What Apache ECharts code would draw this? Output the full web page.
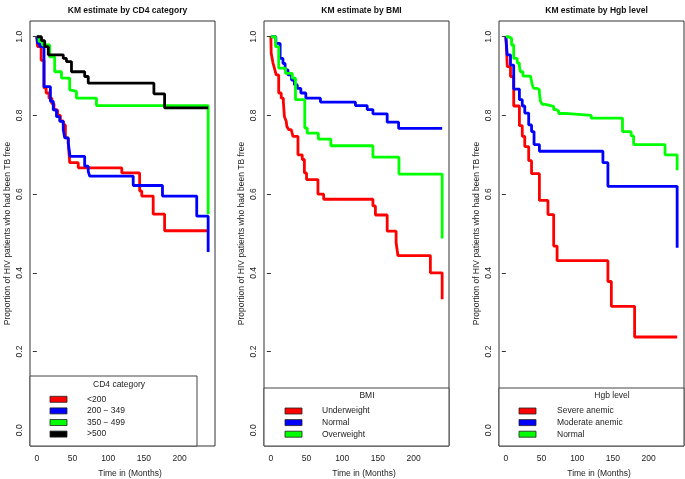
<!DOCTYPE html>
<html><head><meta charset="utf-8">
<script src="https://cdn.jsdelivr.net/npm/echarts@6/dist/echarts.min.js"></script>
<style>html,body{margin:0;padding:0;background:#fff}#c{width:685px;height:479px}</style>
</head><body><div id="c"></div>
<script>
// ---- data ----
const panelTitles = ['KM estimate by CD4 category', 'KM estimate by BMI', 'KM estimate by Hgb level'];
const legendTitles = ['CD4 category', 'BMI', 'Hgb level'];
const xTicks = [0, 50, 100, 150, 200];
const yTicks = [0, 0.2, 0.4, 0.6, 0.8, 1.0];
const xLabel = 'Time in (Months)';
const yLabel = 'Proportion of HIV patients who had been TB free';

const cd4Names = ['<200', '200 − 349', '350 − 499', '>500'];
const cd4Lt200 = [[0,1],[1,0.975],[6,0.94],[10,0.87],[13,0.857],[17,0.844],[21,0.83],[24,0.814],[29,0.80],[33,0.786],[37,0.776],[40,0.743],[44,0.73],[46,0.68],[58,0.667],[119,0.654],[144,0.608],[147,0.595],[163,0.549],[179,0.507],[240,0.507]];
const cd4_200_349 = [[0,1],[1,0.983],[4,0.975],[10,0.873],[19,0.836],[23,0.814],[27.5,0.797],[32,0.785],[37,0.764],[39,0.743],[44,0.73],[46.5,0.696],[67,0.671],[72,0.658],[74,0.646],[135,0.622],[176,0.595],[224,0.544],[240,0.453]];
const cd4_350_499 = [[0,1],[3,0.988],[8,0.979],[18,0.949],[25,0.911],[34.5,0.895],[46,0.865],[48.5,0.861],[55.5,0.844],[83.5,0.825],[240,0.549]];
const cd4Gt500 = [[0,1],[6.5,0.99],[11,0.975],[16,0.954],[37,0.945],[41.5,0.937],[48.5,0.911],[67,0.899],[72,0.882],[164,0.855],[179,0.819],[240,0.819]];

const bmiNames = ['Underweight', 'Normal', 'Overweight'];
const bmiUnder = [[0,1],[0.5,0.958],[3,0.933],[5,0.92],[7.5,0.903],[11,0.857],[14.5,0.844],[17.5,0.835],[19,0.797],[21.5,0.785],[22.5,0.772],[25,0.764],[28.5,0.76],[31,0.747],[38,0.7],[44,0.688],[47,0.654],[50,0.637],[66,0.6],[74,0.587],[143,0.57],[146.5,0.547],[163,0.506],[175.5,0.477],[178,0.444],[223.5,0.40],[240,0.333]];
const bmiNormal = [[0,1],[7,0.983],[13,0.945],[17,0.932],[20,0.916],[24,0.903],[29,0.89],[33,0.878],[37,0.869],[42,0.857],[49,0.844],[69.5,0.834],[118.5,0.825],[135,0.815],[143,0.804],[163,0.783],[179,0.767],[240,0.767]];
const bmiOver = [[0,1],[6.5,0.975],[11,0.92],[20.5,0.907],[30,0.895],[34.5,0.84],[47.5,0.768],[51,0.755],[66.5,0.74],[84,0.723],[143,0.694],[179.5,0.651],[240,0.487]];

const hgbNames = ['Severe anemic', 'Moderate anemic', 'Normal'];
const hgbSevere = [[0,1],[1,0.966],[2,0.924],[6.5,0.899],[11,0.824],[19,0.774],[23,0.747],[26.5,0.721],[32,0.685],[36,0.652],[47,0.584],[59,0.548],[67,0.468],[71.8,0.431],[143,0.378],[147.8,0.315],[180.4,0.237],[240,0.237]];
const hgbModerate = [[0,1],[1.9,0.954],[6.5,0.928],[11,0.867],[19,0.84],[23,0.824],[26.5,0.806],[32,0.776],[36,0.759],[39.5,0.726],[47,0.709],[136,0.68],[143,0.62],[240,0.464]];
const hgbNormal = [[0,1],[4,0.996],[8,0.979],[11,0.945],[16,0.933],[19,0.924],[20.5,0.911],[24,0.9],[34.5,0.895],[37,0.878],[39,0.869],[44,0.865],[47,0.857],[48.5,0.836],[51,0.828],[55.5,0.823],[67,0.815],[70.5,0.811],[74,0.805],[83.5,0.8],[119.6,0.793],[163.4,0.759],[175.5,0.748],[179,0.726],[223,0.7],[240,0.661]];

// ---- styling / layout ----
const colors = ['#ff0000', '#0000ff', '#00ff00', '#000000'];
const FONT = '"Liberation Sans", Arial, sans-serif';
const panels = [
  {names: cd4Names, data: [cd4Lt200, cd4_200_349, cd4_350_499, cd4Gt500], left: 30,
   legBox: [30, 376, 167, 70], legTitle: [119, 385], sw: 50, tx: 87, y0: 399.3},
  {names: bmiNames, data: [bmiUnder, bmiNormal, bmiOver], left: 264,
   legBox: [264, 388, 185, 58], legTitle: [367, 396], sw: 285, tx: 322, y0: 411},
  {names: hgbNames, data: [hgbSevere, hgbModerate, hgbNormal], left: 499,
   legBox: [499, 388, 185, 58], legTitle: [612, 396], sw: 519, tx: 557, y0: 411}
];
const GW = 185, GT = 21, GH = 425;

const grid = [], xAxis = [], yAxis = [], series = [], title = [], graphic = [];
panels.forEach((p, i) => {
  grid.push({left: p.left, top: GT, width: GW, height: GH, show: true, borderColor: '#333', borderWidth: 1,
    backgroundColor: 'transparent', containLabel: false, outerBoundsMode: 'none'});
  xAxis.push({type: 'value', gridIndex: i, min: -9.6, max: 249.6, splitLine: {show: false},
    axisLine: {show: false},
    axisTick: {show: true, length: 4, lineStyle: {color: '#333'}, customValues: xTicks},
    axisLabel: {customValues: xTicks, fontSize: 8.5, fontFamily: FONT, color: '#222', margin: 8},
    name: xLabel, nameLocation: 'middle', nameGap: 23,
    nameTextStyle: {fontSize: 8.5, fontFamily: FONT, color: '#222', padding: [0, 0, 0, 15]}});
  yAxis.push({type: 'value', gridIndex: i, min: -0.04, max: 1.04, splitLine: {show: false},
    axisLine: {show: false},
    axisTick: {show: true, length: 4, lineStyle: {color: '#333'}, customValues: yTicks},
    axisLabel: {customValues: yTicks, rotate: 90, fontSize: 8.5, fontFamily: FONT, color: '#222', margin: 6,
      formatter: v => v.toFixed(1)},
    name: yLabel, nameLocation: 'middle', nameGap: 18, nameRotate: 90,
    nameTextStyle: {fontSize: 8.5, fontFamily: FONT, color: '#222'}});
  title.push({text: panelTitles[i], left: p.left + GW / 2, top: 1, textAlign: 'center',
    textStyle: {fontSize: 8.5, fontWeight: 'bold', fontFamily: FONT, color: '#111'}});
  p.data.forEach((d, k) => {
    series.push({type: 'line', name: p.names[k], xAxisIndex: i, yAxisIndex: i, data: d,
      step: 'end', showSymbol: false, symbol: 'none', animation: false,
      lineStyle: {color: colors[k], width: 2.8}, z: 2 + k});
  });
  const b = p.legBox;
  graphic.push({type: 'rect', shape: {x: b[0], y: b[1], width: b[2], height: b[3]},
    style: {fill: '#fff', stroke: '#444', lineWidth: 1}, z: 50});
  graphic.push({type: 'text', x: p.legTitle[0], y: p.legTitle[1],
    style: {text: legendTitles[i], font: '8.5px ' + FONT, fill: '#222', align: 'center', verticalAlign: 'middle'}, z: 51});
  p.names.forEach((n, k) => {
    const yc = p.y0 + k * 11.6;
    graphic.push({type: 'rect', shape: {x: p.sw, y: yc - 3, width: 17, height: 6},
      style: {fill: colors[k], stroke: '#222', lineWidth: 0.8}, z: 51});
    graphic.push({type: 'text', x: p.tx, y: yc,
      style: {text: n, font: '8.5px ' + FONT, fill: '#222', align: 'left', verticalAlign: 'middle'}, z: 51});
  });
});

const chart = echarts.init(document.getElementById('c'), null, {renderer: 'canvas'});
chart.setOption({animation: false, backgroundColor: '#fff', title, grid, xAxis, yAxis, series, graphic});
</script></body></html>
